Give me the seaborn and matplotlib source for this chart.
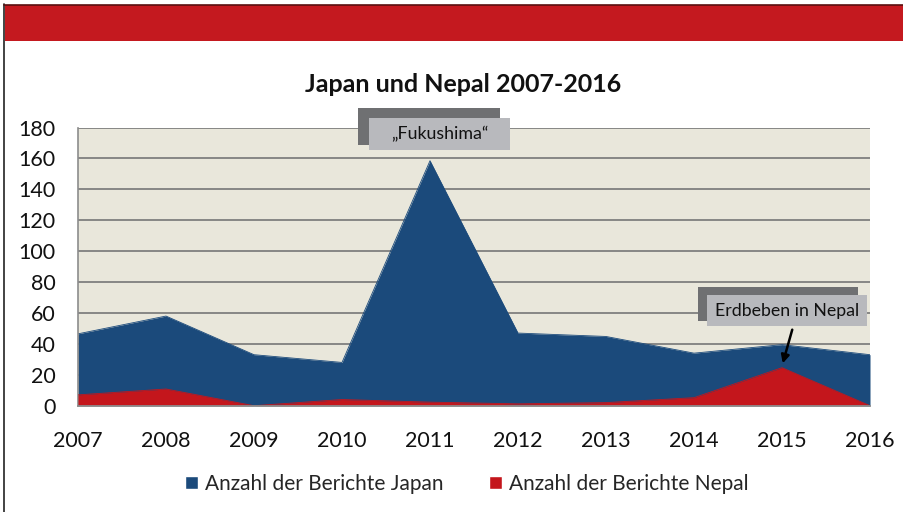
import matplotlib
matplotlib.use("Agg")
import matplotlib.pyplot as plt
import seaborn as sns
import pandas as pd
from matplotlib.patches import Rectangle
from matplotlib.lines import Line2D

years = [2007, 2008, 2009, 2010, 2011, 2012, 2013, 2014, 2015, 2016]
japan = [46.5, 58, 33, 28, 158.5, 47, 44.8, 34, 39.5, 33]
nepal = [7, 10.8, 0, 4, 2.3, 1.2, 2, 5.2, 24.6, 0]
series_names = ["Anzahl der Berichte Japan", "Anzahl der Berichte Nepal"]
title = "Japan und Nepal 2007-2016"
ann_fuku = "\u201eFukushima\u201c"
ann_nepal = "Erdbeben in Nepal"

C_JAPAN = "#1B4A7B"
C_NEPAL = "#C4161C"
BG = "#E9E7DB"

sns.set_style("white")
plt.rcParams["font.family"] = ["Lato", "DejaVu Sans"]

W, H = 904, 512
fig = plt.figure(figsize=(W / 100, H / 100), dpi=100)

def fx(x):
    return x / W

def fy(y):
    return 1 - y / H

# frame + red banner
fig.patches.append(Rectangle((fx(5), fy(41)), fx(W - 5), 36 / H, transform=fig.transFigure,
                             facecolor="#C4191F", edgecolor="none", zorder=0))
fig.lines.append(Line2D([fx(4), fx(4)], [0, fy(4)], transform=fig.transFigure, color="#222222", lw=1.2))
fig.lines.append(Line2D([fx(4), 1], [fy(4.5), fy(4.5)], transform=fig.transFigure, color="#5a1010", lw=1.2))

ax_l, ax_r, ax_t, ax_b = 78, 870, 127.5, 405.7
ax = fig.add_axes([fx(ax_l), fy(ax_b), (ax_r - ax_l) / W, (ax_b - ax_t) / H])
ax.set_facecolor(BG)

df = pd.DataFrame({"year": years, "Japan": japan, "Nepal": nepal})
ax.fill_between(df["year"], 0, df["Japan"], color=C_JAPAN, lw=0, zorder=2)
sns.lineplot(data=df, x="year", y="Japan", ax=ax, color=C_JAPAN, lw=0.6, zorder=2)
ax.fill_between(df["year"], 0, df["Nepal"], color=C_NEPAL, lw=0, zorder=3)
sns.lineplot(data=df, x="year", y="Nepal", ax=ax, color=C_NEPAL, lw=0.6, zorder=3)

ax.set_xlim(2007, 2016)
ax.set_ylim(0, 180)
ax.set_xticks(years)
ax.set_xticklabels([str(y) for y in years])
ax.set_yticks(range(0, 181, 20))
ax.set_xlabel("")
ax.set_ylabel("")
ax.grid(axis="y", color="#7f7f7f", lw=1.3, zorder=1)
ax.set_axisbelow(True)
ax.tick_params(axis="both", length=0, labelsize=15.5, colors="#111111")
ax.tick_params(axis="y", pad=16)
ax.tick_params(axis="x", pad=18)
for s in ["top", "right"]:
    ax.spines[s].set_visible(False)
ax.spines["left"].set_color("#8c8c8c")
ax.spines["left"].set_linewidth(1.2)
ax.spines["bottom"].set_color("#8c8c8c")
ax.spines["bottom"].set_linewidth(1.3)
ax.spines["bottom"].set_zorder(4)

fig.text(fx(463), fy(84), title, ha="center", va="center", fontsize=18, fontweight="bold", color="#111111")

def callout(x0, y0, x1, y1, sx0, sy0, sx1, sy1, text):
    fig.patches.append(Rectangle((fx(sx0), fy(sy1)), (sx1 - sx0) / W, (sy1 - sy0) / H,
                                 transform=fig.transFigure, facecolor="#6f7072", edgecolor="none", zorder=5))
    fig.patches.append(Rectangle((fx(x0), fy(y1)), (x1 - x0) / W, (y1 - y0) / H,
                                 transform=fig.transFigure, facecolor="#B8B9BD", edgecolor="none", zorder=6))
    fig.text(fx((x0 + x1) / 2), fy((y0 + y1) / 2 + 0.5), text, ha="center", va="center",
             fontsize=12.8, color="#111111", zorder=7)

callout(369, 118, 510, 150, 358, 108, 500, 145, ann_fuku)
callout(707, 295, 867, 326, 698, 287, 858, 321, ann_nepal)

fig.add_artist(matplotlib.patches.FancyArrowPatch((fx(793), fy(327)), (fx(782), fy(366)),
                                                  transform=fig.transFigure, arrowstyle="-|>",
                                                  mutation_scale=12, color="#000000", lw=1.8, zorder=8))

handles = [Rectangle((0, 0), 1, 1, facecolor=C_JAPAN), Rectangle((0, 0), 1, 1, facecolor=C_NEPAL)]
fig.legend(handles, series_names, loc="center", bbox_to_anchor=(fx(467), fy(484)), ncol=2,
           frameon=False, fontsize=15, handlelength=0.6, handleheight=0.6, handletextpad=0.35,
           columnspacing=2.2)

fig.savefig("out.png", dpi=100)
